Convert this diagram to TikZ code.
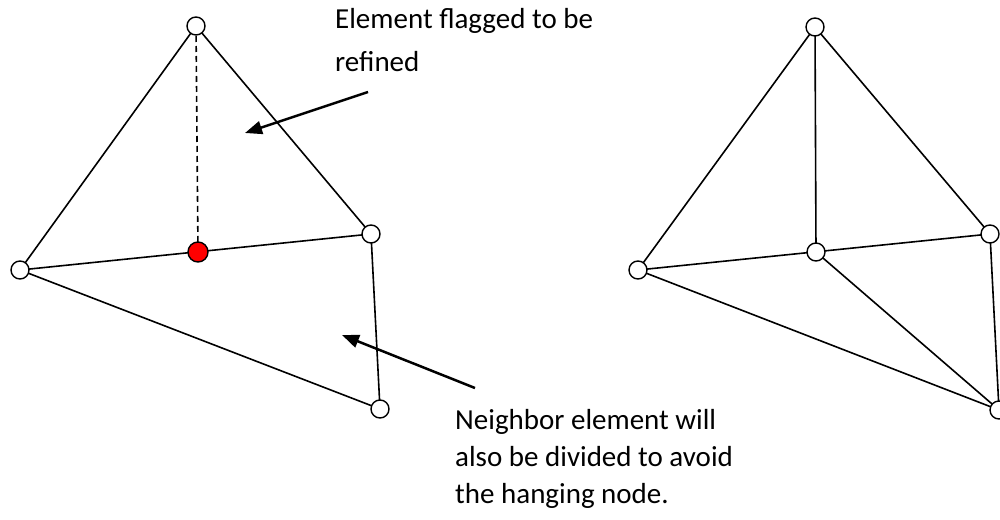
\documentclass[tikz,border=0pt]{standalone}
\usepackage{fontspec}
\setmainfont{Carlito}
\usetikzlibrary{arrows.meta}
\tikzset{
  meshnode/.style={circle, draw=black, fill=white, line width=1.4pt, minimum size=18pt, inner sep=0pt},
  hangnode/.style={meshnode, fill=red, minimum size=20pt},
  edge/.style={line width=1.6pt},
  pointer/.style={line width=2.5pt, -{Triangle[length=17pt,width=13pt]}},
  note/.style={font=\fontsize{29}{37}\selectfont, align=left, anchor=base west, inner sep=0pt}
}
\begin{document}
\begin{tikzpicture}[x=1pt,y=-1pt]
\useasboundingbox (0,0) rectangle (1000,519);

% mesh before refinement: flagged triangle and its neighbour
\coordinate (lT) at (196,26);
\coordinate (lL) at (20,270);
\coordinate (lM) at (198,252);
\coordinate (lR) at (371,234);
\coordinate (lB) at (380,409);
\draw[edge] (lT) -- (lL) -- (lR) -- (lT);
\draw[edge] (lL) -- (lB) -- (lR);
\draw[edge, dash pattern=on 6pt off 4pt] (lT) -- (lM);
\node[meshnode] (nlT) at (lT) {};
\node[meshnode] (nlL) at (lL) {};
\node[meshnode] (nlR) at (lR) {};
\node[meshnode] (nlB) at (lB) {};
\node[hangnode] (nlM) at (lM) {};

% mesh after refinement: both elements split at the midpoint
\coordinate (rT) at (815,27);
\coordinate (rL) at (638,270);
\coordinate (rM) at (816,252);
\coordinate (rR) at (990,234);
\coordinate (rB) at (999,410);
\draw[edge] (rT) -- (rL) -- (rR) -- (rT);
\draw[edge] (rL) -- (rB) -- (rR);
\draw[edge] (rT) -- (rM) -- (rB);
\node[meshnode] (nrT) at (rT) {};
\node[meshnode] (nrL) at (rL) {};
\node[meshnode] (nrM) at (rM) {};
\node[meshnode] (nrR) at (rR) {};
\node[meshnode] (nrB) at (rB) {};

% annotations (anchored at the baseline of the last line)
\node[note] (flag) at (335,71) {Element flagged to be\\[6pt]refined};
\node[note] (neigh) at (455,503) {Neighbor element will\\also be divided to avoid\\the hanging node.};
\coordinate (a1s) at (368,92);
\coordinate (a1e) at (245,133);
\coordinate (a2s) at (475,388);
\coordinate (a2e) at (342,335);
\draw[pointer] (a1s) -- (a1e);
\draw[pointer] (a2s) -- (a2e);
\end{tikzpicture}
\end{document}
